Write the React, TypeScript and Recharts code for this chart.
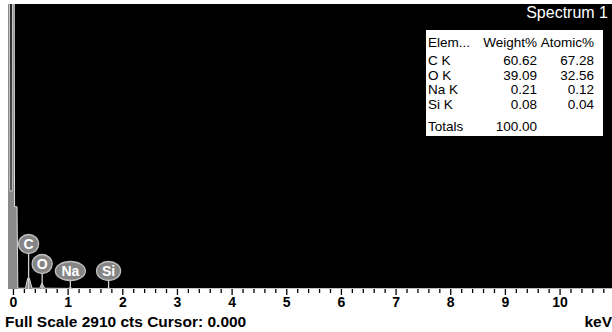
import { ComposedChart, Area, Scatter, XAxis, YAxis, CartesianGrid } from "recharts";

// spectrum (keV / counts)
const energy = [-0.1, -0.07, -0.065, -0.025, -0.02, 0.012, 0.02, 0.065, 0.08, 0.22, 0.26, 0.29, 0.34, 0.48, 0.52, 0.57, 1.0, 1.04, 1.08, 1.7, 1.74, 1.78, 10.95];
const counts = [3200, 3200, 1000, 1000, 3400, 3400, 840, 840, 8, 8, 110, 110, 8, 8, 60, 8, 6, 14, 5, 4, 10, 4, 3];

const peakElements = ["C", "O", "Na", "Si"];
const peakEnergy = [0.277, 0.525, 1.041, 1.74];

const tickLabels = [0, 1, 2, 3, 4, 5, 6, 7, 8, 9, 10];
const allTicks = Array.from({ length: 55 }, (_, i) => Math.round(i * 2) / 10);

const tableRows = ["C K", "O K", "Na K", "Si K"];
const weightPct = ["60.62", "39.09", "0.21", "0.08"];
const atomicPct = ["67.28", "32.56", "0.12", "0.04"];
const totalWeight = "100.00";

const FULL_SCALE = 2910;

// how far above the axis each badge sits (px)
const badgeLift: Record<string, number> = { C: 45, O: 25, Na: 18, Si: 18 };

const spectrum = energy.map((e, i) => ({ e, c: counts[i] }));
const peaks = peakElements.map((el, i) => ({ e: peakEnergy[i], c: 0, el }));

const font = "'Liberation Sans', Arial, sans-serif";

function Badge(props: any) {
  const { cx, cy, payload } = props;
  const el = payload.el as string;
  const lift = badgeLift[el] ?? 20;
  const rx = el === "Na" ? 15 : el === "Si" ? 12 : 10;
  const ry = 9.5;
  const top = cy - lift;
  return (
    <g>
      <line x1={cx} x2={cx} y1={top + ry} y2={cy} stroke="#d0d0d0" strokeWidth={1.3} />
      <ellipse cx={cx} cy={top} rx={rx} ry={ry} fill="#858585" stroke="#c0c0c0" strokeWidth={1.3} />
      <text x={cx} y={top + 5} textAnchor="middle" fill="#fff" fontFamily={font} fontWeight="bold" fontSize={14}>
        {el}
      </text>
    </g>
  );
}

function EnergyTick(props: any) {
  const { x, y, payload } = props;
  const v = payload.value as number;
  const major = tickLabels.includes(v);
  return (
    <g>
      <line x1={x} x2={x} y1={y} y2={y + (major ? 6 : 4)} stroke="#000" strokeWidth={1.3} />
      {major && (
        <text x={x} y={y + 18} textAnchor="middle" fill="#000" fontFamily={font} fontWeight="bold" fontSize={14}>
          {v}
        </text>
      )}
    </g>
  );
}

const rowTop = (i: number) => 24 + i * 14.6;
const cell = { position: "absolute" as const };

export default function App() {
  return (
    <div style={{ position: "absolute", left: 0, top: 0, width: 612, height: 332, background: "#fff" }}>
      <ComposedChart width={612} height={332} data={spectrum} margin={{ top: 4, right: 0, bottom: 0, left: 8 }}>
        <CartesianGrid horizontal={false} vertical={false} fill="#000" stroke="none" />
        <XAxis
          dataKey="e"
          type="number"
          domain={[-0.1, 10.95]}
          allowDataOverflow
          ticks={allTicks}
          interval={0}
          tick={<EnergyTick />}
          tickLine={false}
          axisLine={false}
          tickSize={0}
          tickMargin={0}
          height={43}
        />
        <YAxis hide domain={[0, FULL_SCALE]} allowDataOverflow />
        <Area
          dataKey="c"
          type="linear"
          fill="#8a8a8a"
          fillOpacity={1}
          stroke="#dcdcdc"
          strokeWidth={1}
          isAnimationActive={false}
        />
        <Scatter data={peaks} dataKey="c" shape={<Badge />} isAnimationActive={false} />
      </ComposedChart>

      <div style={{ position: "absolute", right: 4, top: 4, color: "#fff", fontFamily: font, fontSize: 16, lineHeight: "17px" }}>
        Spectrum 1
      </div>

      <div
        style={{
          position: "absolute",
          left: 425,
          top: 29,
          width: 177,
          height: 106,
          background: "#fff",
          border: "1px solid #000",
          fontFamily: font,
          fontSize: 13.5,
          lineHeight: "14px",
          color: "#000",
        }}
      >
        <div style={{ ...cell, left: 2, top: 6 }}>Elem...</div>
        <div style={{ ...cell, right: 66, top: 6 }}>Weight%</div>
        <div style={{ ...cell, right: 9, top: 6 }}>Atomic%</div>
        {tableRows.map((r, i) => (
          <div key={r}>
            <div style={{ ...cell, left: 2, top: rowTop(i) }}>{r}</div>
            <div style={{ ...cell, right: 66, top: rowTop(i) }}>{weightPct[i]}</div>
            <div style={{ ...cell, right: 9, top: rowTop(i) }}>{atomicPct[i]}</div>
          </div>
        ))}
        <div style={{ ...cell, left: 2, top: 90 }}>Totals</div>
        <div style={{ ...cell, right: 66, top: 90 }}>{totalWeight}</div>
      </div>

      <div style={{ position: "absolute", left: 5, top: 314, fontFamily: font, fontWeight: "bold", fontSize: 15.5, lineHeight: "16px", color: "#000" }}>
        Full Scale {FULL_SCALE} cts Cursor: 0.000
      </div>
      <div style={{ position: "absolute", right: 0, top: 314, fontFamily: font, fontWeight: "bold", fontSize: 15.5, lineHeight: "16px", color: "#000" }}>
        keV
      </div>
    </div>
  );
}
